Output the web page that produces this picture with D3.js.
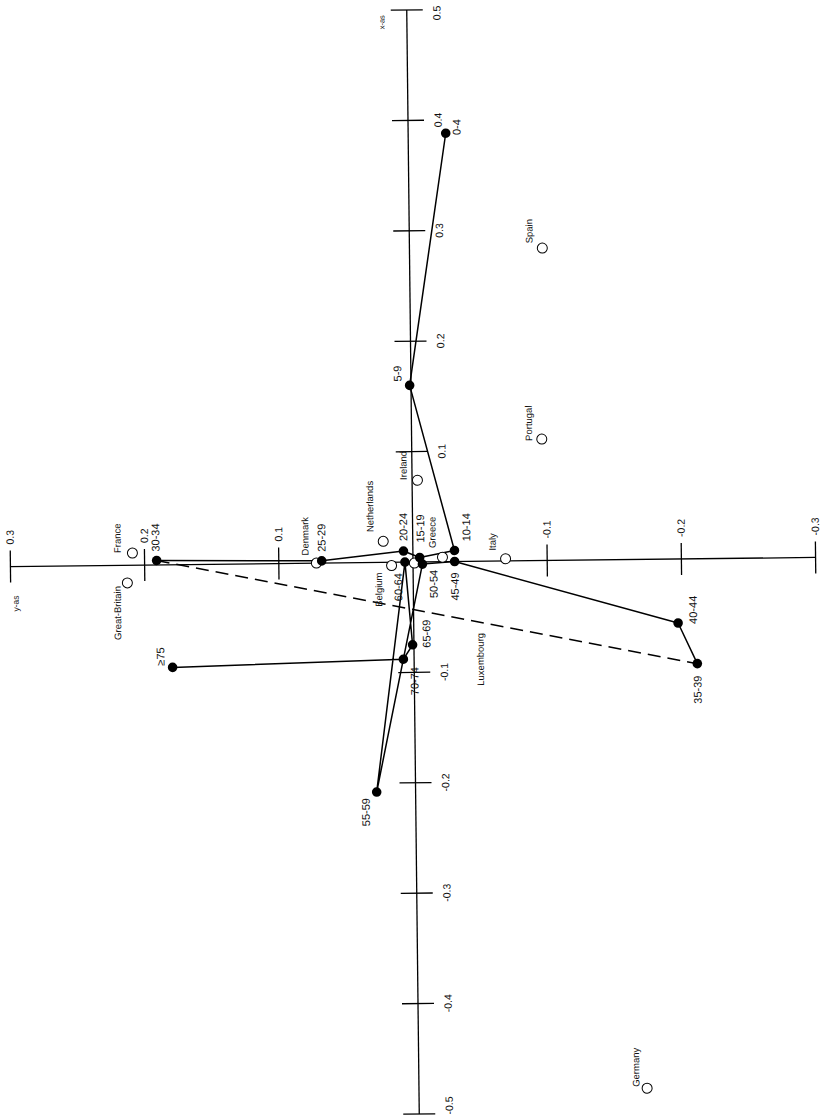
<!DOCTYPE html>
<html>
<head>
<meta charset="utf-8">
<script src="https://cdn.jsdelivr.net/npm/d3@7"></script>
<style>
  html, body { margin: 0; padding: 0; background: #fff; }
  svg { display: block; }
  text { font-family: "Liberation Sans", Arial, Helvetica, sans-serif; fill: #111; }
</style>
</head>
<body>
<svg id="chart" width="821" height="1116"></svg>
<script>
// ---------- data ----------
// age groups (filled points, connected in order)
const ageGroups = ["0-4","5-9","10-14","15-19","20-24","25-29","30-34","35-39","40-44","45-49","50-54","55-59","60-64","65-69","70-74","≥75"];
const ageXas = [0.388, 0.160, 0.010, 0.004, 0.010, 0.002, 0.004, -0.095, -0.058, 0.000, -0.002, -0.208, 0.000, -0.075, -0.088, -0.093];
const ageYas = [-0.028, 0.001, -0.031, -0.005, 0.007, 0.068, 0.191, -0.211, -0.197, -0.031, -0.007, 0.029, 0.006, 0.001, 0.008, 0.180];

// countries (open points)
const countries = ["France","Great-Britain","Denmark","Netherlands","Ireland","Belgium","Luxembourg","Greece","Italy","Spain","Portugal","Germany"];
const countryXas = [0.011, -0.016, 0.000, 0.019, 0.074, -0.003, -0.001, 0.004, 0.002, 0.283, 0.110, -0.479];
const countryYas = [0.209, 0.213, 0.072, 0.022, -0.004, 0.016, -0.001, -0.022, -0.069, -0.099, -0.097, -0.170];

// axis ticks
const xasTicks = [0.5, 0.4, 0.3, 0.2, 0.1, -0.1, -0.2, -0.3, -0.4, -0.5];
const xasTickLabels = ["0.5","0.4","0.3","0.2","0.1","-0.1","-0.2","-0.3","-0.4","-0.5"];
const yasTicks = [0.3, 0.2, 0.1, -0.1, -0.2, -0.3];
const yasTickLabels = ["0.3","0.2","0.1","-0.1","-0.2","-0.3"];

// ---------- layout (label offsets in px, not data) ----------
const ageLabelOffsets = [[11,-6],[-12,-12],[12,-23],[1,-29],[0,-24],[0,-23],[-1,-23],[0,26],[15,-13],[0,25],[11,20],[-11,20],[-7,25],[14,-11],[11,22],[-12,-11]];
const countryLabelOffsets = [[-15,-15],[-10,30],[-11,-27],[-13,-35],[-14,-15],[-13,24],[65,97],[-10,-25],[-13,-17],[-13,-17],[-13,-16],[-11,-21]];

const ox = 413, oy = 562;
const svg = d3.select("#chart");
svg.append("rect").attr("width", 821).attr("height", 1116).attr("fill", "#fff");

// vertical screen axis = "x-as" (positive up), horizontal screen axis = "y-as" (positive left)
const sx = d3.scaleLinear().domain([0.3, -0.3]).range([ox - 402.6, ox + 402.6]); // y-as -> screen x
const sy = d3.scaleLinear().domain([0.5, -0.5]).range([oy - 552, oy + 552]);     // x-as -> screen y

const g = svg.append("g").attr("transform", `rotate(-0.65, ${ox}, ${oy})`);

// axes
const axisG = g.append("g").attr("stroke", "#000").attr("stroke-width", 1.3);
axisG.append("line").attr("x1", ox).attr("x2", ox).attr("y1", sy(0.5)).attr("y2", sy(-0.5));
axisG.append("line").attr("y1", oy).attr("y2", oy).attr("x1", sx(0.3)).attr("x2", sx(-0.3));
axisG.selectAll(".xt").data(xasTicks).join("line")
  .attr("x1", ox - 16).attr("x2", ox + 16).attr("y1", d => sy(d)).attr("y2", d => sy(d));
axisG.selectAll(".yt").data(yasTicks).join("line")
  .attr("y1", oy - 16).attr("y2", oy + 16).attr("x1", d => sx(d)).attr("x2", d => sx(d));

// tick labels on x-as; the end labels are shifted inward so they stay inside the frame
const [xMax, xMin] = d3.extent(xasTicks).reverse();
g.selectAll(".xtl").data(xasTicks).join("text")
  .attr("transform", d => {
    const y = d === xMax ? sy(d) - 4 : d === xMin ? sy(d) + 1 : sy(d);
    return `translate(${ox + 30},${y}) rotate(-90)`;
  })
  .attr("text-anchor", d => d === xMax ? "end" : d === xMin ? "start" : "middle")
  .attr("dy", "0.35em")
  .style("font-size", "10.5px")
  .text((d, i) => xasTickLabels[i]);
g.selectAll(".ytl").data(yasTicks).join("text")
  .attr("transform", d => `translate(${sx(d)},${oy - 22}) rotate(-90)`)
  .attr("text-anchor", "start").attr("dy", "0.35em")
  .style("font-size", "10.5px")
  .text((d, i) => yasTickLabels[i]);

g.append("text").attr("transform", `translate(${ox - 25},${sy(0.5) + 12}) rotate(-90)`)
  .attr("text-anchor", "middle").attr("dy", "0.35em").style("font-size", "7.5px").text("x-as");
g.append("text").attr("transform", `translate(${sx(0.3) + 5},${oy + 37}) rotate(-90)`)
  .attr("text-anchor", "middle").attr("dy", "0.35em").style("font-size", "8.5px").text("y-as");

// connecting lines
const pts = ageGroups.map((a, i) => [sx(ageYas[i]), sy(ageXas[i])]);
const line = d3.line();
const solid1 = pts.slice(0, 7);   // 0-4 ... 30-34
const dashed = pts.slice(6, 8);   // 30-34 -> 35-39
const solid2 = pts.slice(7);      // 35-39 ... >=75
g.append("path").attr("d", line(solid1)).attr("fill", "none").attr("stroke", "#000").attr("stroke-width", 1.5).attr("stroke-linejoin", "round");
g.append("path").attr("d", line(dashed)).attr("fill", "none").attr("stroke", "#000").attr("stroke-width", 1.5).attr("stroke-dasharray", "13,7");
g.append("path").attr("d", line(solid2)).attr("fill", "none").attr("stroke", "#000").attr("stroke-width", 1.5).attr("stroke-linejoin", "round");

// country points
g.selectAll(".cpt").data(countries).join("circle")
  .attr("cx", (d, i) => sx(countryYas[i])).attr("cy", (d, i) => sy(countryXas[i]))
  .attr("r", 5).attr("fill", "#fff").attr("stroke", "#000").attr("stroke-width", 1);

// age points
g.selectAll(".apt").data(ageGroups).join("circle")
  .attr("cx", (d, i) => sx(ageYas[i])).attr("cy", (d, i) => sy(ageXas[i]))
  .attr("r", 4.8).attr("fill", "#000");

// labels
g.selectAll(".cl").data(countries).join("text")
  .attr("transform", (d, i) => `translate(${sx(countryYas[i]) + countryLabelOffsets[i][0]},${sy(countryXas[i]) + countryLabelOffsets[i][1]}) rotate(-90)`)
  .attr("text-anchor", "middle").attr("dy", "0.35em")
  .style("font-size", "9.5px")
  .text(d => d);
g.selectAll(".al").data(ageGroups).join("text")
  .attr("transform", (d, i) => `translate(${sx(ageYas[i]) + ageLabelOffsets[i][0]},${sy(ageXas[i]) + ageLabelOffsets[i][1]}) rotate(-90)`)
  .attr("text-anchor", "middle").attr("dy", "0.35em")
  .style("font-size", "11px")
  .text(d => d);
</script>
</body>
</html>
